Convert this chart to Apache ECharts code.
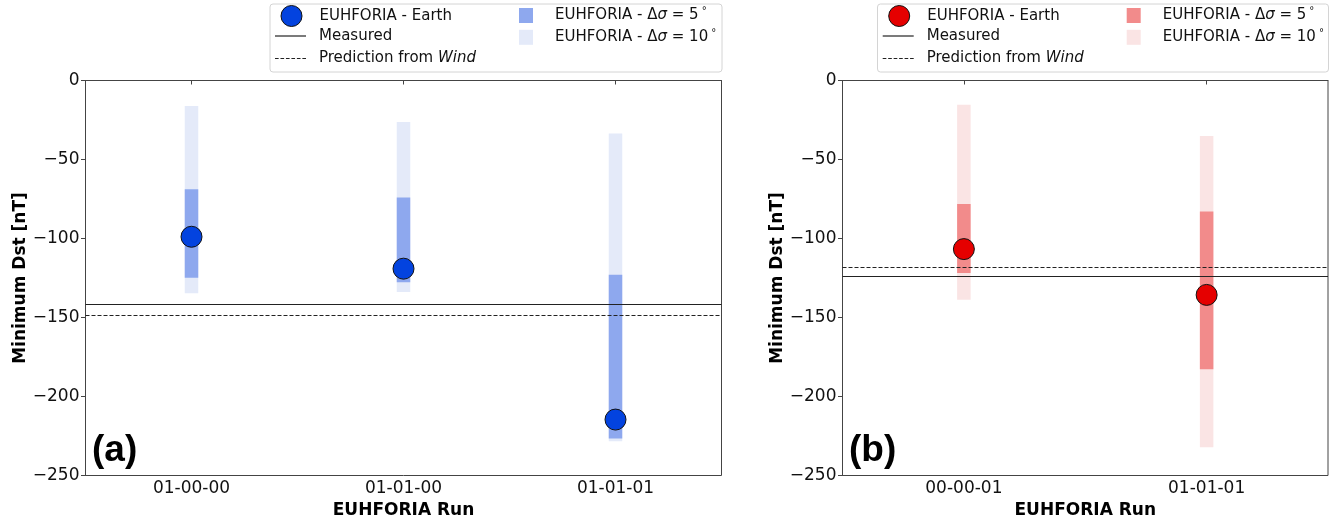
<!DOCTYPE html>
<html>
<head>
<meta charset="utf-8">
<script src="https://cdn.jsdelivr.net/npm/echarts@6/dist/echarts.min.js"></script>
<style>html,body{margin:0;padding:0;background:#fff;overflow:hidden;}#c{width:1333px;height:516px;}</style>
</head>
<body>
<div id="c"></div>
<script>
// ---------- data ----------
const runsA = ['01-00-00', '01-01-00', '01-01-01'];
const earthA = [-98.9, -119.1, -214.6];
const d5HighA = [-68.8, -74.1, -122.9];
const d5LowA = [-124.8, -127.7, -226.6];
const d10HighA = [-16.2, -26.3, -33.5];
const d10LowA = [-134.7, -133.8, -228.3];
const measuredA = -141.6;
const windA = -148.8;

const runsB = ['00-00-01', '01-01-01'];
const earthB = [-106.7, -135.7];
const d5HighB = [-78.1, -82.9];
const d5LowB = [-121.8, -182.7];
const d10HighB = [-15.4, -35.1];
const d10LowB = [-138.7, -232.1];
const measuredB = -123.7;
const windB = -118.5;

const yMin = -250, yMax = 0, yStep = 50;

const N_EARTH = 'EUHFORIA - Earth';
const N_MEAS = 'Measured';
const N_WIND = 'Prediction from Wind';
const N_D5 = 'EUHFORIA - Δσ = 5°';
const N_D10 = 'EUHFORIA - Δσ = 10°';

// ---------- styles ----------
const FONT = 'DejaVu Sans';
const BLUE = '#0343df', BLUE5 = '#8ea8ee', BLUE10 = '#e4eaf9';
const RED = '#e50000', RED5 = '#f28b8b', RED10 = '#fae4e4';
const SPINE = '#444';
const LINEC = '#222';
const BAR_W = 13.5;
const DASH_ICON = 'path://M0,0h3.6v1h-3.6zM5.4,0h3.6v1h-3.6zM10.8,0h3.6v1h-3.6zM16.2,0h3.6v1h-3.6zM21.6,0h3.6v1h-3.6zM27,0h3.6v1h-3.6z';

const chart = echarts.init(document.getElementById('c'), null, {renderer: 'canvas', width: 1333, height: 516});

function rangeSeries(name, gi, high, low, color, z) {
  return {
    type: 'custom', name: name, xAxisIndex: gi, yAxisIndex: gi, z: z,
    itemStyle: {color: color},
    encode: {x: 0, y: [1, 2]},
    data: high.map((h, i) => [i, h, low[i]]),
    renderItem: function (params, api) {
      const p1 = api.coord([api.value(0), api.value(1)]);
      const p2 = api.coord([api.value(0), api.value(2)]);
      return {type: 'rect', shape: {x: p1[0] - BAR_W / 2, y: p1[1], width: BAR_W, height: p2[1] - p1[1]},
              style: {fill: color}};
    }
  };
}
function hLine(name, gi, val, dashed) {
  const ls = {color: LINEC, width: 1.1, type: dashed ? [4, 2] : 'solid'};
  return {
    type: 'line', name: name, xAxisIndex: gi, yAxisIndex: gi, z: 5, data: [], symbol: 'none', showSymbol: false,
    itemStyle: {color: LINEC}, lineStyle: ls,
    markLine: {silent: true, symbol: ['none', 'none'], label: {show: false}, animation: false,
      lineStyle: ls, data: [{yAxis: val}]}
  };
}
function earthSeries(gi, vals, color) {
  return {type: 'scatter', name: N_EARTH, xAxisIndex: gi, yAxisIndex: gi, z: 10, data: vals,
    symbolSize: 21, itemStyle: {color: color, borderColor: '#111', borderWidth: 1, opacity: 1}};
}

const rich = {
  n: {fontFamily: FONT, fontSize: 15, color: '#111', lineHeight: 18},
  i: {fontFamily: FONT, fontSize: 15, fontStyle: 'italic', color: '#111', lineHeight: 18},
  s: {fontFamily: FONT, fontSize: 10, color: '#111', verticalAlign: 'top', padding: [0, 0, 4, 3]}
};
function fmt(name) {
  if (name === N_WIND) return '{n|Prediction from }{i|Wind}';
  if (name === N_D5) return '{n|EUHFORIA - Δ}{i|σ}{n| = 5}{s|°}';
  if (name === N_D10) return '{n|EUHFORIA - Δ}{i|σ}{n| = 10}{s|°}';
  return '{n|' + name + '}';
}
function leg(item, left, top, w, h, pad) {
  return {show: true, left: left, top: top, padding: 0, itemGap: 0, itemWidth: w, itemHeight: h,
    selectedMode: false, data: [item], formatter: fmt,
    textStyle: {fontFamily: FONT, fontSize: 15, color: '#111', lineHeight: 18, padding: [0, 0, 0, pad], rich: rich}};
}
function legendsFor(x0, c, c5, c10) {
  return [
    leg({name: N_EARTH, icon: 'circle', itemStyle: {color: c, borderColor: '#111', borderWidth: 1}}, x0 + 5.5, 5, 21, 21, 12.5),
    leg({name: N_MEAS, icon: 'rect', itemStyle: {color: LINEC, borderWidth: 0}}, x0, 27, 31, 1.2, 8),
    leg({name: N_WIND, icon: DASH_ICON, itemStyle: {color: LINEC, borderWidth: 0}}, x0, 49.5, 31, 1.1, 8),
    leg({name: N_D5, icon: 'rect', itemStyle: {color: c5, borderWidth: 0}}, x0 + 244, 6.5, 14, 15, 17),
    leg({name: N_D10, icon: 'rect', itemStyle: {color: c10, borderWidth: 0}}, x0 + 244, 28.3, 14, 15, 17)
  ];
}

function xAx(gi, cats) {
  return {type: 'category', gridIndex: gi, data: cats, boundaryGap: true,
    name: 'EUHFORIA Run', nameLocation: 'middle', nameGap: 20,
    nameTextStyle: {fontFamily: FONT, fontSize: 17, fontWeight: 'bold', color: '#000'},
    axisLine: {show: true, lineStyle: {color: SPINE, width: 1}},
    axisTick: {show: true, alignWithLabel: true, length: 4, lineStyle: {color: SPINE}},
    axisLabel: {fontFamily: FONT, fontSize: 17, color: '#111', margin: 5},
    splitLine: {show: false}};
}
function yAx(gi) {
  return {type: 'value', gridIndex: gi, min: yMin, max: yMax, interval: yStep,
    name: 'Minimum Dst [nT]', nameLocation: 'middle', nameGap: 55, nameRotate: 90,
    nameTextStyle: {fontFamily: FONT, fontSize: 17, fontWeight: 'bold', color: '#000'},
    axisLine: {show: true, lineStyle: {color: SPINE, width: 1}},
    axisTick: {show: true, length: 4.5, lineStyle: {color: SPINE}},
    axisLabel: {fontFamily: FONT, fontSize: 17, color: '#111', margin: 6,
      formatter: v => String(v).replace('-', '\u2212')},
    splitLine: {show: false}};
}

const option = {
  animation: false,
  backgroundColor: '#fff',
  grid: [
    {left: 85.5, top: 80.5, width: 636, height: 395, show: true, borderColor: SPINE, borderWidth: 1,
     backgroundColor: '#fff', containLabel: false, outerBoundsMode: 'none'},
    {left: 842.5, top: 80.5, width: 485.5, height: 395, show: true, borderColor: SPINE, borderWidth: 1,
     backgroundColor: '#fff', containLabel: false, outerBoundsMode: 'none'}
  ],
  xAxis: [xAx(0, runsA), xAx(1, runsB)],
  yAxis: [yAx(0), yAx(1)],
  legend: legendsFor(275, BLUE, BLUE5, BLUE10).concat(legendsFor(882.7, RED, RED5, RED10)),
  graphic: [
    {type: 'rect', left: 269.5, top: 3.5, z: -1, shape: {width: 452, height: 68, r: 3},
     style: {fill: '#fff', stroke: '#d4d4d4', lineWidth: 1}},
    {type: 'rect', left: 877, top: 3.5, z: -1, shape: {width: 451, height: 68, r: 3},
     style: {fill: '#fff', stroke: '#d4d4d4', lineWidth: 1}},
    {type: 'text', left: 92, top: 432, z: 20, style: {text: '(a)', font: 'bold 37px "Liberation Sans"', fill: '#000'}},
    {type: 'text', left: 849, top: 432, z: 20, style: {text: '(b)', font: 'bold 37px "Liberation Sans"', fill: '#000'}}
  ],
  series: [
    rangeSeries(N_D10, 0, d10HighA, d10LowA, BLUE10, 1),
    rangeSeries(N_D5, 0, d5HighA, d5LowA, BLUE5, 2),
    hLine(N_MEAS, 0, measuredA, false),
    hLine(N_WIND, 0, windA, true),
    earthSeries(0, earthA, BLUE),
    rangeSeries(N_D10, 1, d10HighB, d10LowB, RED10, 1),
    rangeSeries(N_D5, 1, d5HighB, d5LowB, RED5, 2),
    hLine(N_MEAS, 1, measuredB, false),
    hLine(N_WIND, 1, windB, true),
    earthSeries(1, earthB, RED)
  ]
};
chart.setOption(option);
</script>
</body>
</html>
